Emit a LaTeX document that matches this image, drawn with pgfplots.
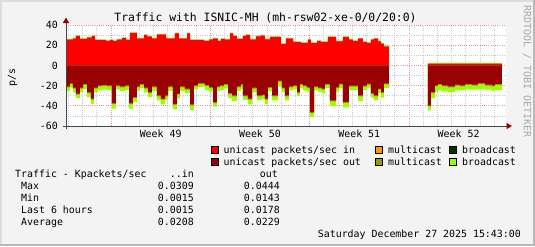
\documentclass[border=0pt]{standalone}
\usepackage{fontspec}
\setmainfont{DejaVu Sans Mono}
\setmonofont{DejaVu Sans Mono}
\usepackage{pgfplots}
\pgfplotsset{compat=1.18}
\usepackage{pgfplotstable}

\definecolor{bgc}{HTML}{F3F3F3}
\definecolor{shadea}{HTML}{DCDCDC}
\definecolor{shadeb}{HTML}{B8B8B8}
\definecolor{uin}{HTML}{FF0000}
\definecolor{uout}{HTML}{990000}
\definecolor{mcin}{HTML}{FF9900}
\definecolor{mcout}{HTML}{999900}
\definecolor{bcin}{HTML}{003300}
\definecolor{bcout}{HTML}{99FF00}
\definecolor{axisc}{HTML}{3A4A44}
\definecolor{arrowc}{HTML}{990000}
\definecolor{mgrid}{RGB}{228,150,150}
\definecolor{ngrid}{RGB}{200,200,200}
\definecolor{wmark}{HTML}{A8A8A8}

\newcommand\rf{\fontsize{9.95}{11}\selectfont}

% chunk 1, in direction (Kpackets/sec x 1000)
\pgfplotstableread{
t ui
-3.17 25.5
-2.68 26.5
-2.47 29
-2.19 26
-1.69 27.5
-1.34 29
-1.13 25
-0.35 24
-0.07 25
0.14 24
0.42 25.5
0.78 27
1.06 25
1.34 32
1.83 26.5
2.33 30
2.54 28.5
2.89 26.5
3.24 30.5
3.88 26.5
4.51 31.6
4.79 26.5
5.36 31.6
5.57 25
6.55 24
6.91 25.5
7.19 26.5
7.54 24
7.75 26
8.03 25.5
8.39 31.6
8.60 29
8.88 26
9.30 29
9.51 30
9.80 25.4
10.22 28.7
10.57 29.4
10.85 25.7
11.21 28
11.98 21
12.33 26.5
12.83 23
13.39 22
13.88 25.4
14.09 22
14.52 24
14.80 23
15.29 28
15.86 23.8
16.35 28
16.77 25.4
17.05 24
17.41 26.5
17.76 23
18.04 22
18.32 25.4
18.53 26.5
18.82 23.7
19.03 21.3
19.24 18.7
19.59 18.7
}\inA

% chunk 1, out direction: unicast, broadcast
\pgfplotstableread{
t uo bo
-3.17 20.8 3.5
-2.89 17.5 3.5
-2.68 22.1 3.5
-2.47 28 3.2
-2.19 22.1 3.5
-1.97 18.3 4
-1.69 26.4 4
-1.41 33 4
-1.20 22.1 3.5
-0.92 19.8 4
-0.63 19.3 3.5
-0.28 19.8 3.5
0.07 37.3 4.5
0.35 19.8 3
0.63 20.8 3.5
0.99 19.8 3.5
1.27 37.3 4.5
1.55 31.4 4
1.83 20.8 3.5
2.04 18.3 3
2.33 22.1 3.5
2.61 26.4 4
2.89 20.8 3.5
3.24 29.7 4
3.52 33 4.5
3.81 29.7 4
4.02 20.8 3.5
4.37 38 4.5
4.65 28 4
4.86 20.8 3.5
5.21 23.1 3
5.57 38.6 4.5
5.85 19.8 3
6.13 17.5 3
6.62 19.3 4
6.91 21.4 3.5
7.19 36.3 3.5
7.47 20.8 3.5
7.68 19.8 3.5
7.96 18.3 3.5
8.25 27.4 4
8.53 29.7 4.5
8.88 20.8 3.5
9.16 18.3 4
9.30 29.7 3.5
9.65 33 4.5
9.94 22.1 3.5
10.29 29.7 3.5
10.64 29 3.5
10.85 33 4
11.06 21.4 3
11.35 29.7 4
11.77 15 5
12.05 22.1 3
12.26 29.7 4
12.54 20.8 3
12.83 19.8 3
13.11 26.4 3
13.32 18.3 3
13.53 19.8 4
13.81 21.4 3.5
14.02 46.2 4
14.31 20.8 3
14.59 22.1 3
14.87 23.1 3.5
15.08 18.3 3
15.43 34.7 4.5
15.86 21.4 3.5
16.07 18 3.5
16.35 36 4.5
16.77 20 3.5
17.05 20 3.5
17.41 29.7 4.5
17.76 20 3.5
18.04 18 3
18.32 27.4 3.5
18.53 29.7 4
18.82 23 3.5
19.03 26.4 4.5
19.24 17.7 3.5
19.59 17.7 3.5
}\outA

\pgfplotstableread{
t ui
22.34 1.5
27.55 1.5
}\inB

\pgfplotstableread{
t uo bo
22.34 39.6 4
22.55 26.4 5
22.83 19.8 5.5
23.04 18.3 5.5
23.33 19.8 5
23.75 20.8 4.5
24.24 19 4.5
24.59 19.8 4
24.95 18.3 4.5
25.44 19 4
25.86 17.5 5
26.36 19 4
26.85 19.8 4.5
27.06 18.3 5
27.55 18.3 5
}\outB

\begin{document}
\begin{tikzpicture}[x=1bp,y=1bp]
\fill[bgc] (0,0) rectangle (535,246);
\fill[shadea] (0,244) rectangle (535,246);
\fill[shadea] (0,0) rectangle (2,246);
\fill[shadeb] (0,0) rectangle (535,2);
\fill[shadeb] (533,0) rectangle (535,246);

\begin{axis}[
  at={(66bp,120bp)}, anchor=south west,
  scale only axis, width=440bp, height=101bp,
  xmin=-3.17, xmax=27.84, ymin=-60, ymax=40,
  axis line style={draw=none},
  axis background/.style={fill=white},
  xtick={0,7,14,21}, xticklabels={,,,},
  minor xtick={-3,-2,...,27},
  extra x ticks={3.5,10.5,17.5,24.5},
  extra x tick labels={Week 49,Week 50,Week 51,Week 52},
  extra x tick style={grid=none, major tick length=0pt},
  ytick={-60,-40,-20,0,20,40},
  yticklabels={-60,-40,-20,0,20,40},
  minor ytick={-50,-30,-10,10,30},
  xmajorgrids, xminorgrids, ymajorgrids, yminorgrids,
  major grid style={draw=mgrid, line width=0.8bp, dash pattern=on 1bp off 1.2bp},
  minor grid style={draw=ngrid, line width=0.8bp, dash pattern=on 1bp off 1.2bp},
  major tick length=0pt, minor tick length=0pt,
  tick label style={font=\rf, inner sep=0pt},
  yticklabel style={anchor=east, xshift=-8bp},
  xticklabel style={anchor=north, yshift=-4bp},
]
% in direction
\addplot[const plot mark left, fill=mcin, draw=none] table[x=t, y expr=\thisrow{ui}+0.8] {\inA} \closedcycle;
\addplot[const plot mark left, fill=uin, draw=none] table[x=t, y=ui] {\inA} \closedcycle;
\addplot[const plot mark left, fill=mcin, draw=none] table[x=t, y expr=\thisrow{ui}+0.9] {\inB} \closedcycle;
\addplot[const plot mark left, fill=uin, draw=none] table[x=t, y=ui] {\inB} \closedcycle;
% out direction
\addplot[const plot mark left, fill=bcout, draw=none] table[x=t, y expr=-(\thisrow{uo}+1+\thisrow{bo})] {\outA} \closedcycle;
\addplot[const plot mark left, fill=mcout, draw=none] table[x=t, y expr=-(\thisrow{uo}+1)] {\outA} \closedcycle;
\addplot[const plot mark left, fill=uout, draw=none] table[x=t, y expr=-\thisrow{uo}] {\outA} \closedcycle;
\addplot[const plot mark left, fill=bcout, draw=none] table[x=t, y expr=-(\thisrow{uo}+1+\thisrow{bo})] {\outB} \closedcycle;
\addplot[const plot mark left, fill=mcout, draw=none] table[x=t, y expr=-(\thisrow{uo}+1)] {\outB} \closedcycle;
\addplot[const plot mark left, fill=uout, draw=none] table[x=t, y expr=-\thisrow{uo}] {\outB} \closedcycle;
\end{axis}

% axis lines and arrows
\draw[axisc, line width=1bp] (63,120) -- (507,120);
\draw[axisc, line width=1bp] (66,117) -- (66,223);
\fill[arrowc] (506.5,116.8) -- (512,120) -- (506.5,123.2) -- cycle;
\fill[arrowc] (62.8,223) -- (66,228.5) -- (69.2,223) -- cycle;

% title and labels
\node[anchor=base, inner sep=0pt, font=\fontsize{11.45}{13}\selectfont] at (265.5,224.3) {Traffic with ISNIC-MH (mh-rsw02-xe-0/0/20:0)};
\node[rotate=90, inner sep=0pt, font=\rf] at (12.5,168.5) {p/s};
\node[rotate=-90, anchor=west, inner sep=0pt, text=wmark, font=\fontsize{10}{11}\selectfont] at (527,241) {RRDTOOL / TOBI OETIKER};

% legend
\filldraw[fill=uin, draw=black, line width=0.8bp] (211,92.5) rectangle (218,99.5);
\node[anchor=base west, inner sep=0pt, font=\rf] at (223.5,92.7) {unicast packets/sec in};
\filldraw[fill=mcin, draw=black, line width=0.8bp] (375.5,92.5) rectangle (382.5,99.5);
\node[anchor=base west, inner sep=0pt, font=\rf] at (388,92.7) {multicast};
\filldraw[fill=bcin, draw=black, line width=0.8bp] (449,92.5) rectangle (456,99.5);
\node[anchor=base west, inner sep=0pt, font=\rf] at (462,92.7) {broadcast};

\filldraw[fill=uout, draw=black, line width=0.8bp] (211,80.5) rectangle (218,87.5);
\node[anchor=base west, inner sep=0pt, font=\rf] at (223.5,80.7) {unicast packets/sec out};
\filldraw[fill=mcout, draw=black, line width=0.8bp] (375.5,80.5) rectangle (382.5,87.5);
\node[anchor=base west, inner sep=0pt, font=\rf] at (388,80.7) {multicast};
\filldraw[fill=bcout, draw=black, line width=0.8bp] (449,80.5) rectangle (456,87.5);
\node[anchor=base west, inner sep=0pt, font=\rf] at (462,80.7) {broadcast};

% statistics
\node[anchor=base west, inner sep=0pt, font=\rf] at (15,68.5) {Traffic - Kpackets/sec};
\node[anchor=base east, inner sep=0pt, font=\rf] at (194,68.5) {..in};
\node[anchor=base east, inner sep=0pt, font=\rf] at (278,68.5) {out};

\node[anchor=base west, inner sep=0pt, font=\rf] at (21,56.6) {Max};
\node[anchor=base east, inner sep=0pt, font=\rf] at (194,56.6) {0.0309};
\node[anchor=base east, inner sep=0pt, font=\rf] at (280,56.6) {0.0444};

\node[anchor=base west, inner sep=0pt, font=\rf] at (21,44.7) {Min};
\node[anchor=base east, inner sep=0pt, font=\rf] at (194,44.7) {0.0015};
\node[anchor=base east, inner sep=0pt, font=\rf] at (280,44.7) {0.0143};

\node[anchor=base west, inner sep=0pt, font=\rf] at (21,32.8) {Last 6 hours};
\node[anchor=base east, inner sep=0pt, font=\rf] at (194,32.8) {0.0015};
\node[anchor=base east, inner sep=0pt, font=\rf] at (280,32.8) {0.0178};

\node[anchor=base west, inner sep=0pt, font=\rf] at (21,20.9) {Average};
\node[anchor=base east, inner sep=0pt, font=\rf] at (194,20.9) {0.0208};
\node[anchor=base east, inner sep=0pt, font=\rf] at (280,20.9) {0.0229};

\node[anchor=base east, inner sep=0pt, font=\rf] at (521,8.5) {Saturday December 27 2025 15:43:00};
\end{tikzpicture}
\end{document}
